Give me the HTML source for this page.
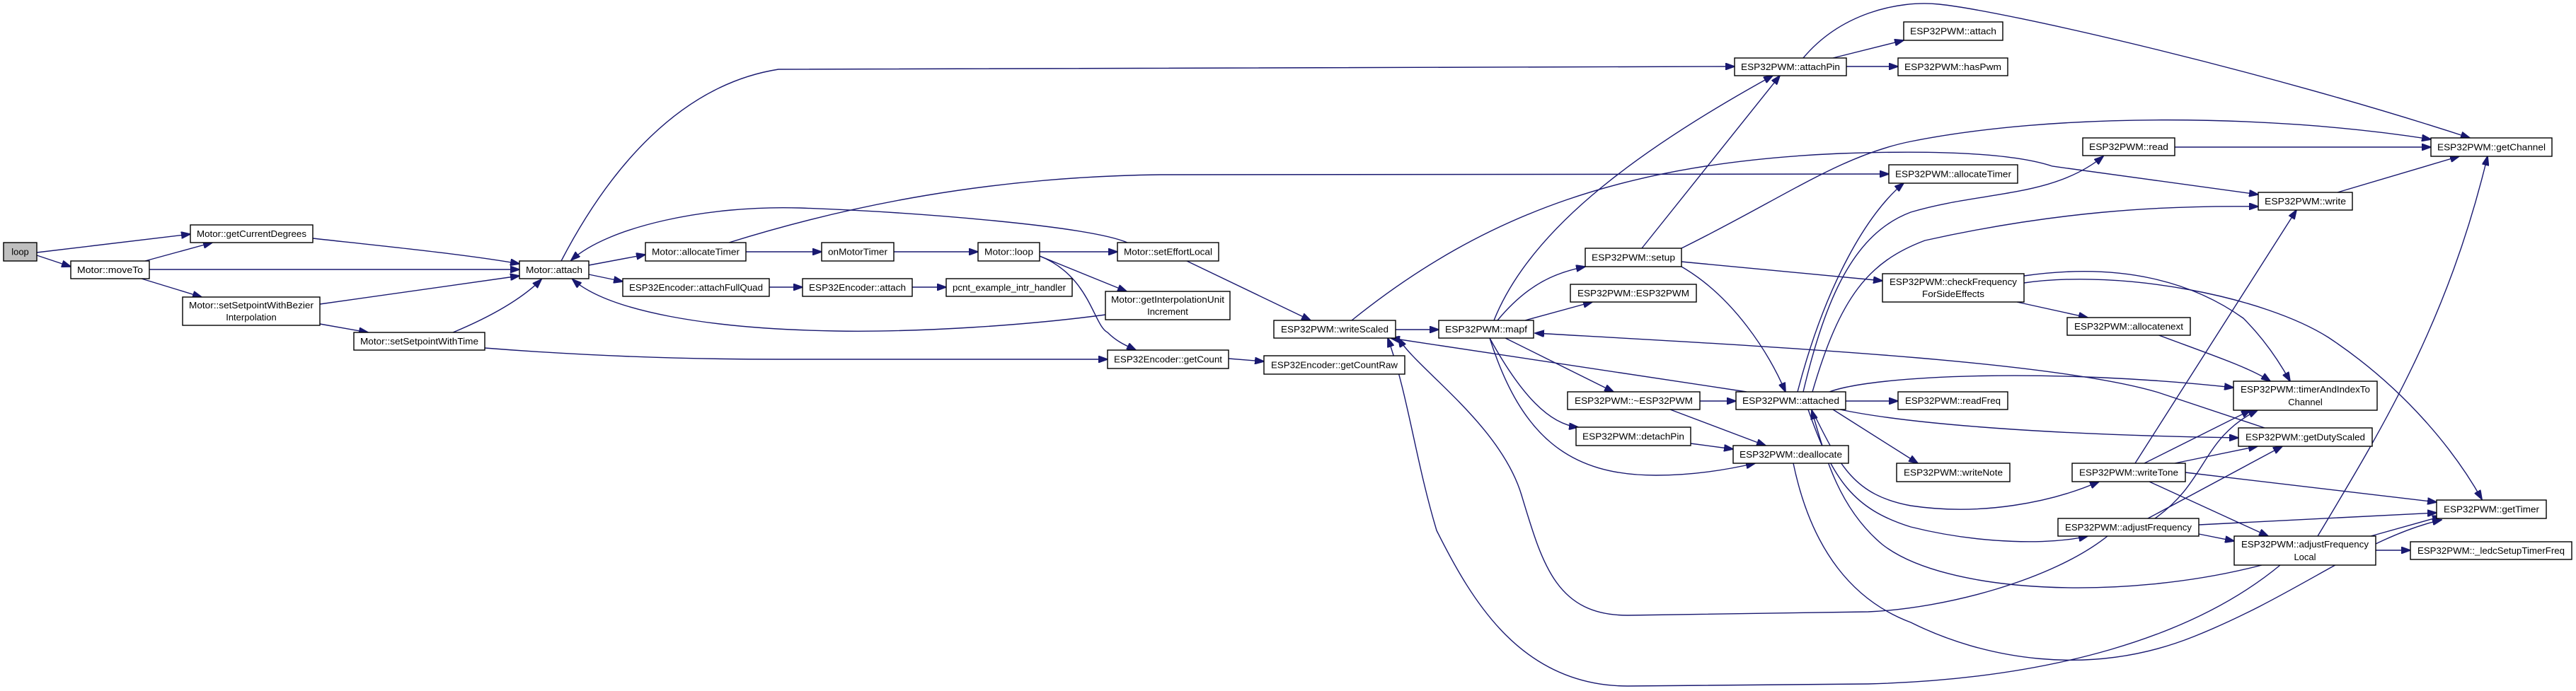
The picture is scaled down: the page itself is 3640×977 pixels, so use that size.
<!DOCTYPE html>
<html><head><meta charset="utf-8"><style>
html,body{margin:0;padding:0;background:#fff;}
svg{display:block}
text{font-family:"Liberation Sans",sans-serif;font-size:13px;fill:#000;text-anchor:middle}
.e{fill:none;stroke:#191970;stroke-width:1.4}
.n{fill:#fff;stroke:#000;stroke-width:1.4}
</style></head><body>
<svg width="3640" height="977" viewBox="0 0 3640 977" xmlns="http://www.w3.org/2000/svg">
<defs><marker id="a" markerWidth="14" markerHeight="10" refX="13" refY="5" orient="auto" markerUnits="userSpaceOnUse"><path d="M0,0 L14,5 L0,10 z" fill="#191970" stroke="#191970"/></marker></defs>
<g marker-end="url(#a)">
<path class="e" d="M52,357 L269,331"/>
<path class="e" d="M52,361 L100,377"/>
<path class="e" d="M205,369 L300,343"/>
<path class="e" d="M211,381 L734,381"/>
<path class="e" d="M200,394 L285,420"/>
<path class="e" d="M442,337 C560,350 660,360 734,373"/>
<path class="e" d="M452,430 C560,415 660,400 734,390"/>
<path class="e" d="M452,458 L520,470"/>
<path class="e" d="M640,470 C700,445 740,420 765,395"/>
<path class="e" d="M685,492 C850,505 1000,508 1100,508 L1565,508"/>
<path class="e" d="M832,375 L912,360"/>
<path class="e" d="M832,388 L880,398"/>
<path class="e" d="M793,369 C860,240 960,120 1100,98 C1300,94 1500,94 2451,94"/>
<path class="e" d="M1593,343 C1540,320 1300,300 1130,294 C1000,290 860,320 807,368"/>
<path class="e" d="M1562,445 C1450,460 1300,470 1180,468 C1000,465 860,440 809,395"/>
<path class="e" d="M1030,343 C1200,290 1400,250 1640,247 L2669,246"/>
<path class="e" d="M1054,356 L1161,356"/>
<path class="e" d="M1263,356 L1382,356"/>
<path class="e" d="M1469,356 L1579,356"/>
<path class="e" d="M1469,362 L1592,412"/>
<path class="e" d="M1469,362 C1540,390 1545,460 1565,470 C1580,485 1595,490 1605,495"/>
<path class="e" d="M1087,406 L1134,406"/>
<path class="e" d="M1289,406 L1337,406"/>
<path class="e" d="M1677,369 L1852,453"/>
<path class="e" d="M1736,507 L1786,511"/>
<path class="e" d="M1972,466 L2033,466"/>
<path class="e" d="M1910,453 C2100,300 2300,230 2600,217 C2800,210 2870,225 2900,235 L3191,275"/>
<path class="e" d="M2111,453 C2160,330 2300,220 2505,107"/>
<path class="e" d="M2116,453 C2160,400 2200,385 2240,377"/>
<path class="e" d="M2155,453 L2250,427"/>
<path class="e" d="M2127,478 L2280,554"/>
<path class="e" d="M2105,478 C2150,560 2190,600 2230,604"/>
<path class="e" d="M2105,478 C2150,620 2220,672 2340,672 C2400,672 2450,662 2480,655"/>
<path class="e" d="M2320,351 L2515,107"/>
<path class="e" d="M2376,351 C2520,280 2600,220 2700,200 C2900,160 3200,160 3435,197"/>
<path class="e" d="M2376,370 L2660,397"/>
<path class="e" d="M2376,377 C2450,420 2500,500 2523,554"/>
<path class="e" d="M2590,82 L2690,57"/>
<path class="e" d="M2609,94 L2682,94"/>
<path class="e" d="M2548,82 C2600,20 2680,0 2740,6 C2830,15 3200,100 3490,195"/>
<path class="e" d="M3073,208 L3435,208"/>
<path class="e" d="M3303,272 L3475,221"/>
<path class="e" d="M2548,554 C2580,420 2620,330 2700,300 C2800,270 2900,280 2972,221"/>
<path class="e" d="M2540,554 C2580,400 2640,300 2690,259"/>
<path class="e" d="M2561,554 C2600,420 2640,370 2720,340 C2900,300 3050,290 3191,292"/>
<path class="e" d="M2608,567 L2682,567"/>
<path class="e" d="M2585,554 C2650,530 2900,520 3156,548"/>
<path class="e" d="M2600,579 C2700,600 2900,615 3163,619"/>
<path class="e" d="M2590,579 L2710,655"/>
<path class="e" d="M2560,579 C2600,660 2620,700 2700,715 C2800,730 2900,710 2966,681"/>
<path class="e" d="M2555,579 C2590,680 2620,720 2700,745 C2800,770 2900,770 2950,758"/>
<path class="e" d="M2534,655 C2560,780 2620,850 2700,880 C2800,930 2950,960 3100,900 C3250,840 3340,760 3450,735"/>
<path class="e" d="M3200,605 L3050,555 C2900,510 2500,490 2169,471"/>
<path class="e" d="M3196,799 C3000,850 2750,840 2660,770 C2600,720 2580,650 2560,580"/>
<path class="e" d="M2468,554 L1965,478"/>
<path class="e" d="M2978,758 C2900,820 2750,860 2640,865 L2300,870 C2200,870 2180,800 2150,700 C2120,600 2000,520 1976,478"/>
<path class="e" d="M3222,799 C3100,900 2900,960 2640,967 L2300,970 C2150,970 2080,850 2030,750 C2000,650 1990,560 1961,478"/>
<path class="e" d="M2402,567 L2453,567"/>
<path class="e" d="M2360,579 L2495,630"/>
<path class="e" d="M2389,627 L2449,635"/>
<path class="e" d="M2850,427 L2950,449"/>
<path class="e" d="M2860,390 C3000,370 3100,400 3170,450 C3200,480 3220,510 3236,539"/>
<path class="e" d="M2860,400 C3000,380 3200,420 3290,477 C3400,550 3470,640 3507,706"/>
<path class="e" d="M3048,473 C3120,500 3180,520 3208,539"/>
<path class="e" d="M3017,655 L3245,297"/>
<path class="e" d="M3275,758 C3370,600 3460,450 3515,221"/>
<path class="e" d="M3030,655 L3180,580"/>
<path class="e" d="M3073,655 L3190,631"/>
<path class="e" d="M3088,668 L3443,710"/>
<path class="e" d="M3037,681 L3205,758"/>
<path class="e" d="M3045,733 C3120,680 3110,620 3190,580"/>
<path class="e" d="M3035,733 L3225,631"/>
<path class="e" d="M3107,742 L3443,725"/>
<path class="e" d="M3107,755 L3157,765"/>
<path class="e" d="M3350,758 L3450,730"/>
<path class="e" d="M3357,778 L3406,778"/>
</g>
<g>
<rect class="n" x="5" y="343" width="47" height="26" style="fill:#bfbfbf"/><text x="28.5" y="360.5">loop</text>
<rect class="n" x="269" y="318" width="173" height="25"/><text x="355.5" y="335" textLength="155" lengthAdjust="spacingAndGlyphs">Motor::getCurrentDegrees</text>
<rect class="n" x="100" y="369" width="111" height="25"/><text x="155.5" y="386" textLength="93" lengthAdjust="spacingAndGlyphs">Motor::moveTo</text>
<rect class="n" x="734" y="369" width="98" height="25"/><text x="783" y="386" textLength="80" lengthAdjust="spacingAndGlyphs">Motor::attach</text>
<rect class="n" x="258" y="420" width="194" height="40"/><text x="355" y="436" textLength="176" lengthAdjust="spacingAndGlyphs">Motor::setSetpointWithBezier</text><text x="355" y="453">Interpolation</text>
<rect class="n" x="500" y="470" width="185" height="25"/><text x="592.5" y="487" textLength="167" lengthAdjust="spacingAndGlyphs">Motor::setSetpointWithTime</text>
<rect class="n" x="912" y="343" width="142" height="26"/><text x="983" y="360.5" textLength="124" lengthAdjust="spacingAndGlyphs">Motor::allocateTimer</text>
<rect class="n" x="1161" y="343" width="102" height="26"/><text x="1212" y="360.5" textLength="84" lengthAdjust="spacingAndGlyphs">onMotorTimer</text>
<rect class="n" x="1382" y="343" width="87" height="26"/><text x="1425.5" y="360.5" textLength="69" lengthAdjust="spacingAndGlyphs">Motor::loop</text>
<rect class="n" x="1579" y="343" width="143" height="26"/><text x="1650.5" y="360.5" textLength="125" lengthAdjust="spacingAndGlyphs">Motor::setEffortLocal</text>
<rect class="n" x="880" y="394" width="207" height="25"/><text x="983.5" y="411" textLength="189" lengthAdjust="spacingAndGlyphs">ESP32Encoder::attachFullQuad</text>
<rect class="n" x="1134" y="394" width="155" height="25"/><text x="1211.5" y="411" textLength="137" lengthAdjust="spacingAndGlyphs">ESP32Encoder::attach</text>
<rect class="n" x="1337" y="394" width="178" height="25"/><text x="1426" y="411" textLength="160" lengthAdjust="spacingAndGlyphs">pcnt_example_intr_handler</text>
<rect class="n" x="1562" y="412" width="176" height="40"/><text x="1650" y="428" textLength="160" lengthAdjust="spacingAndGlyphs">Motor::getInterpolationUnit</text><text x="1650" y="445">Increment</text>
<rect class="n" x="1565" y="495" width="171" height="26"/><text x="1650.5" y="512.5" textLength="153" lengthAdjust="spacingAndGlyphs">ESP32Encoder::getCount</text>
<rect class="n" x="1786" y="503" width="199" height="26"/><text x="1885.5" y="520.5" textLength="179" lengthAdjust="spacingAndGlyphs">ESP32Encoder::getCountRaw</text>
<rect class="n" x="1800" y="453" width="172" height="25"/><text x="1886" y="470" textLength="152" lengthAdjust="spacingAndGlyphs">ESP32PWM::writeScaled</text>
<rect class="n" x="2033" y="453" width="134" height="25"/><text x="2100" y="470" textLength="116" lengthAdjust="spacingAndGlyphs">ESP32PWM::mapf</text>
<rect class="n" x="2240" y="351" width="136" height="26"/><text x="2308" y="368.5" textLength="118" lengthAdjust="spacingAndGlyphs">ESP32PWM::setup</text>
<rect class="n" x="2219" y="402" width="178" height="25"/><text x="2308" y="419" textLength="158" lengthAdjust="spacingAndGlyphs">ESP32PWM::ESP32PWM</text>
<rect class="n" x="2451" y="82" width="158" height="25"/><text x="2530" y="99" textLength="140" lengthAdjust="spacingAndGlyphs">ESP32PWM::attachPin</text>
<rect class="n" x="2690" y="31" width="140" height="26"/><text x="2760" y="48.5" textLength="122" lengthAdjust="spacingAndGlyphs">ESP32PWM::attach</text>
<rect class="n" x="2682" y="82" width="155" height="25"/><text x="2759.5" y="99" textLength="137" lengthAdjust="spacingAndGlyphs">ESP32PWM::hasPwm</text>
<rect class="n" x="2943" y="195" width="130" height="25"/><text x="3008" y="212" textLength="112" lengthAdjust="spacingAndGlyphs">ESP32PWM::read</text>
<rect class="n" x="3435" y="195" width="171" height="26"/><text x="3520.5" y="212.5" textLength="153" lengthAdjust="spacingAndGlyphs">ESP32PWM::getChannel</text>
<rect class="n" x="2669" y="233" width="182" height="26"/><text x="2760" y="250.5" textLength="164" lengthAdjust="spacingAndGlyphs">ESP32PWM::allocateTimer</text>
<rect class="n" x="3191" y="272" width="133" height="25"/><text x="3257.5" y="289" textLength="115" lengthAdjust="spacingAndGlyphs">ESP32PWM::write</text>
<rect class="n" x="2660" y="387" width="200" height="40"/><text x="2760" y="403" textLength="180" lengthAdjust="spacingAndGlyphs">ESP32PWM::checkFrequency</text><text x="2760" y="420" textLength="88" lengthAdjust="spacingAndGlyphs">ForSideEffects</text>
<rect class="n" x="2921" y="449" width="174" height="25"/><text x="3008" y="466" textLength="154" lengthAdjust="spacingAndGlyphs">ESP32PWM::allocatenext</text>
<rect class="n" x="2215" y="554" width="187" height="25"/><text x="2308.5" y="571" textLength="167" lengthAdjust="spacingAndGlyphs">ESP32PWM::~ESP32PWM</text>
<rect class="n" x="2453" y="554" width="155" height="25"/><text x="2530.5" y="571" textLength="137" lengthAdjust="spacingAndGlyphs">ESP32PWM::attached</text>
<rect class="n" x="2227" y="604" width="162" height="26"/><text x="2308" y="621.5" textLength="144" lengthAdjust="spacingAndGlyphs">ESP32PWM::detachPin</text>
<rect class="n" x="2449" y="630" width="163" height="25"/><text x="2530.5" y="647" textLength="145" lengthAdjust="spacingAndGlyphs">ESP32PWM::deallocate</text>
<rect class="n" x="3156" y="539" width="203" height="41"/><text x="3257.5" y="555" textLength="183" lengthAdjust="spacingAndGlyphs">ESP32PWM::timerAndIndexTo</text><text x="3257.5" y="573">Channel</text>
<rect class="n" x="2682" y="554" width="155" height="25"/><text x="2759.5" y="571" textLength="135" lengthAdjust="spacingAndGlyphs">ESP32PWM::readFreq</text>
<rect class="n" x="3163" y="605" width="189" height="26"/><text x="3257.5" y="622.5" textLength="169" lengthAdjust="spacingAndGlyphs">ESP32PWM::getDutyScaled</text>
<rect class="n" x="2680" y="655" width="160" height="26"/><text x="2760" y="672.5" textLength="140" lengthAdjust="spacingAndGlyphs">ESP32PWM::writeNote</text>
<rect class="n" x="2928" y="655" width="160" height="26"/><text x="3008" y="672.5" textLength="140" lengthAdjust="spacingAndGlyphs">ESP32PWM::writeTone</text>
<rect class="n" x="3443" y="707" width="155" height="26"/><text x="3520.5" y="724.5" textLength="135" lengthAdjust="spacingAndGlyphs">ESP32PWM::getTimer</text>
<rect class="n" x="2908" y="733" width="199" height="25"/><text x="3007.5" y="750" textLength="179" lengthAdjust="spacingAndGlyphs">ESP32PWM::adjustFrequency</text>
<rect class="n" x="3157" y="758" width="200" height="41"/><text x="3257" y="774" textLength="180" lengthAdjust="spacingAndGlyphs">ESP32PWM::adjustFrequency</text><text x="3257" y="792">Local</text>
<rect class="n" x="3406" y="766" width="228" height="25"/><text x="3520" y="783" textLength="208" lengthAdjust="spacingAndGlyphs">ESP32PWM::_ledcSetupTimerFreq</text>
</g>
</svg>
</body></html>
